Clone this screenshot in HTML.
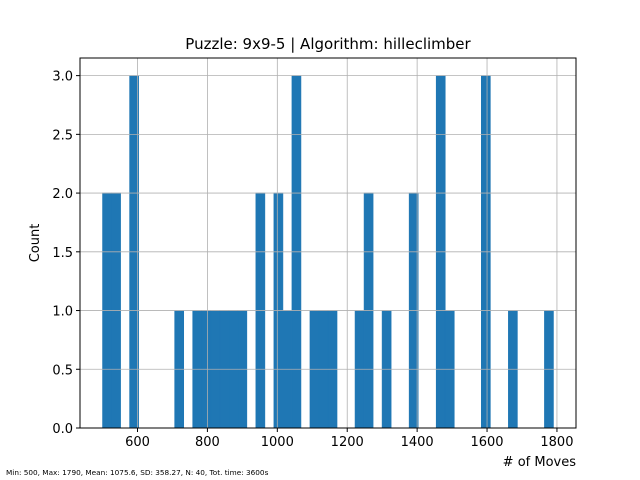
<!DOCTYPE html>
<html><head><meta charset="utf-8"><style>body{margin:0;background:#fff}svg{display:block;font-family:"DejaVu Sans","Liberation Sans",sans-serif}</style></head>
<body>
<svg id="c" width="640" height="480" xmlns="http://www.w3.org/2000/svg">
<rect width="640" height="480" fill="#fff"/>
<g id="bars"></g>
<g id="grid"></g>
<rect x="80" y="58" width="496" height="370" fill="none" stroke="#000" stroke-width="1"/>
<g id="ticks"></g>
<text x="328" y="49" font-size="15" text-anchor="middle">Puzzle: 9x9-5 | Algorithm: hilleclimber</text>
<text x="576" y="466" font-size="13" text-anchor="end"># of Moves</text>
<text transform="translate(39,243) rotate(-90)" font-size="13" text-anchor="middle">Count</text>
<text x="6" y="475" font-size="7.3">Min: 500, Max: 1790, Mean: 1075.6, SD: 358.27, N: 40, Tot. time: 3600s</text>
</svg>
<script>
const binStart = 500;
const binWidth = 25.8;
const counts = [2,2,0,3,0,0,0,0,1,0,1,1,1,1,1,1,0,2,0,2,1,3,0,1,1,1,0,0,1,2,0,1,0,0,2,0,0,3,1,0,0,0,3,0,0,1,0,0,0,1];
const xTicks = [600,800,1000,1200,1400,1600,1800];
const yTicks = [0,0.5,1,1.5,2,2.5,3];
const yTickLabels = ["0.0","0.5","1.0","1.5","2.0","2.5","3.0"];
const NS="http://www.w3.org/2000/svg";
const X0=80,X1=576,Y0=428,Y1=58;
const xmin=435.5,xmax=1854.5,ymin=0,ymax=3.15;
const xs=v=>X0+(v-xmin)/(xmax-xmin)*(X1-X0);
const ys=v=>Y0-(v-ymin)/(ymax-ymin)*(Y0-Y1);
function mk(t,a,p){const e=document.createElementNS(NS,t);for(const k in a)e.setAttribute(k,a[k]);p.appendChild(e);return e;}
const grid=document.getElementById('grid'),bars=document.getElementById('bars'),ticks=document.getElementById('ticks');
xTicks.forEach(v=>{const x=xs(v);
 const g=mk('line',{x1:x,x2:x,y1:Y1,y2:Y0,stroke:'#b0b0b0','stroke-width':0.8},grid);
 
 
 const t=mk('line',{x1:x,x2:x,y1:Y0,y2:Y0+4,stroke:'#000'},ticks);
 
 
 const l=mk('text',{x:x,y:Y0+18,'font-size':13,'text-anchor':'middle'},ticks);l.textContent=v;
 
 
});
yTicks.forEach((v,i)=>{const y=ys(v);
 const g=mk('line',{x1:X0,x2:X1,y1:y,y2:y,stroke:'#b0b0b0','stroke-width':0.8},grid);
 
 
 const t=mk('line',{x1:X0-4,x2:X0,y1:y,y2:y,stroke:'#000'},ticks);
 
 
 const l=mk('text',{x:X0-7,y:y+5,'font-size':13,'text-anchor':'end'},ticks);l.textContent=yTickLabels[i];
 
 
});
counts.forEach((c,i)=>{if(!c)return;const a=xs(binStart+i*binWidth),b=xs(binStart+(i+1)*binWidth);
 const r=mk('rect',{x:a,y:ys(c),width:b-a,height:ys(0)-ys(c),fill:'#1f77b4',stroke:'#1f77b4','stroke-width':0.6},bars);
 
 
});
</script>
</body></html>
